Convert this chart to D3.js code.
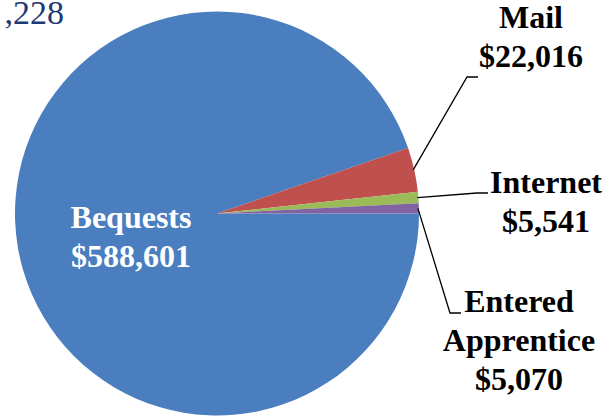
<!DOCTYPE html>
<html>
<head>
<meta charset="utf-8">
<script src="https://cdn.jsdelivr.net/npm/d3@7"></script>
<style>
  html, body { margin: 0; padding: 0; background: #fff; }
  svg { display: block; }
</style>
</head>
<body>
<svg id="chart" width="609" height="417"></svg>
<script>
// ---- data ----
const categories = ["Bequests", "Mail", "Internet", "Entered Apprentice"];
const values = [588601, 22016, 5541, 5070];
const labelLines = [["Bequests"], ["Mail"], ["Internet"], ["Entered", "Apprentice"]];
const titleText = ",228";

// ---- layout / style ----
const colors = ["#4A7EBF", "#C0504D", "#9BBB59", "#8064A2"];
const W = 609, H = 417;
const cx = 217, cy = 213.5, R = 202;
const fmt = v => "$" + d3.format(",")(v);
// label anchor (center x, first baseline y), text colour, leader elbow
const labelLayout = [
  { x: 131, y: 228, fill: "#ffffff", leader: null },
  { x: 531, y: 28, fill: "#000000", leader: { ex: 467, ey: 77, hx: 478 } },
  { x: 546, y: 193, fill: "#000000", leader: { ex: 477, ey: 193, hx: 488 } },
  { x: 519, y: 312, fill: "#000000", leader: { ex: 450, ey: 313, hx: 461 } }
];
const lineH = 39;

const svg = d3.select("#chart");
const g = svg.append("g").attr("transform", `translate(${cx},${cy})`);

const pie = d3.pie().sort(null).value(d => d)
  .startAngle(Math.PI / 2).endAngle(Math.PI / 2 + 2 * Math.PI);
const arcs = pie(values);
const arc = d3.arc().innerRadius(0).outerRadius(R);
const edgeArc = d3.arc().innerRadius(R - 1).outerRadius(R - 1);

g.selectAll("path.slice").data(arcs).enter().append("path")
  .attr("class", "slice")
  .attr("d", arc)
  .attr("fill", (d, i) => colors[i]);

// leader lines
arcs.forEach((d, i) => {
  const L = labelLayout[i].leader;
  if (!L) return;
  const [sx, sy] = edgeArc.centroid(d);
  const pts = [[sx + cx, sy + cy], [L.ex, L.ey], [L.hx, L.ey]];
  svg.append("path")
    .attr("d", d3.line()(pts))
    .attr("fill", "none")
    .attr("stroke", "#000")
    .attr("stroke-width", 1.3);
});

// labels
arcs.forEach((d, i) => {
  const lay = labelLayout[i];
  const lines = labelLines[i].concat([fmt(values[i])]);
  const t = svg.append("text")
    .attr("text-anchor", "middle")
    .attr("font-family", "'Liberation Serif', 'Times New Roman', serif")
    .attr("font-weight", "bold")
    .attr("font-size", 32)
    .attr("fill", lay.fill);
  lines.forEach((ln, k) => {
    t.append("tspan").attr("x", lay.x).attr("y", lay.y + k * lineH).text(ln);
  });
});

// title fragment
svg.append("text")
  .attr("x", 64).attr("y", 24)
  .attr("text-anchor", "end")
  .attr("font-family", "'Liberation Serif', 'Times New Roman', serif")
  .attr("font-size", 34)
  .attr("fill", "#1F3A73")
  .text(titleText);
</script>
</body>
</html>
